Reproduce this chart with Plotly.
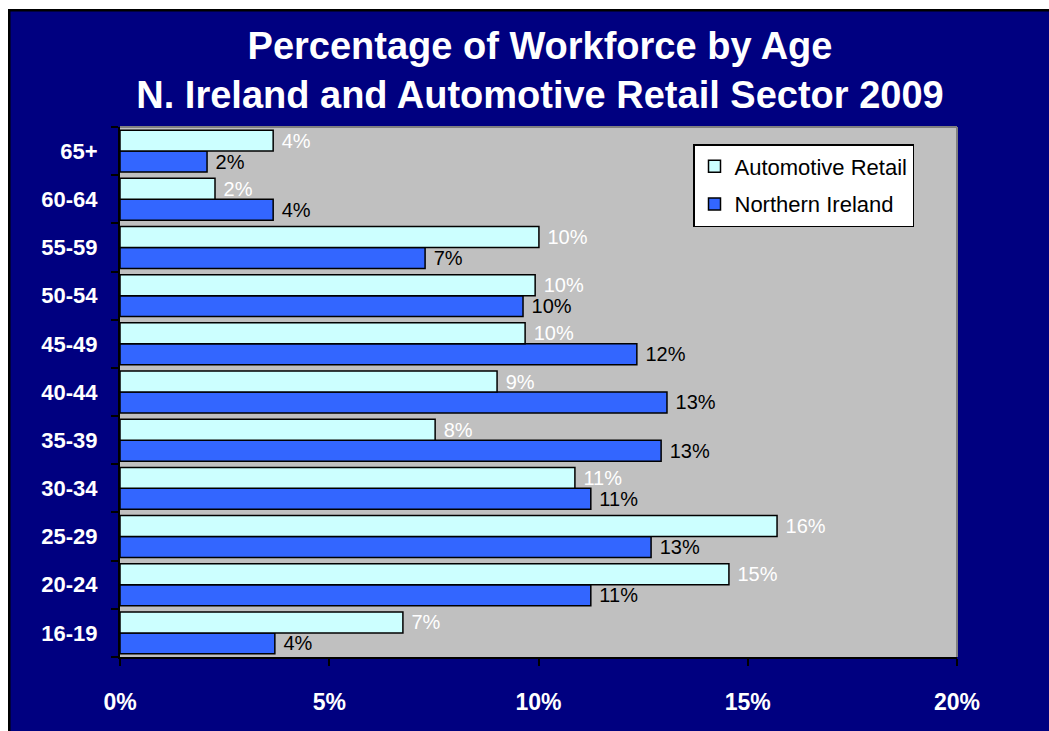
import plotly.graph_objects as go

# Age bands, bottom to top
ages = ["16-19", "20-24", "25-29", "30-34", "35-39", "40-44",
        "45-49", "50-54", "55-59", "60-64", "65+"]

# Share of workforce (%) in each age band
automotive_retail = [6.76, 14.55, 15.70, 10.87, 7.53, 9.01, 9.68, 9.92, 10.01, 2.27, 3.66]
northern_ireland = [3.70, 11.25, 12.69, 11.25, 12.93, 13.07, 12.35, 9.63, 7.29, 3.66, 2.08]

x_ticks = [0, 5, 10, 15, 20]
x_tick_labels = ["0%", "5%", "10%", "15%", "20%"]

NAVY = "#000080"
FONT = "Liberation Sans, Arial, sans-serif"

# Plot-area placement in pixels (page is 1049 x 731)
W, H = 1049, 731
L, R, T, B = 120, 92, 127, 74
PW, PH = W - L - R, H - T - B


def px_x(p):
    return (p - L) / PW


def px_y(p):
    return (H - B - p) / PH


fig = go.Figure()

fig.add_trace(go.Bar(
    name="Northern Ireland", legendgroup="ni", legendrank=2,
    y=ages, x=northern_ireland, orientation="h",
    marker=dict(color="#3366FF", line=dict(color="black", width=1.5)),
    text=northern_ireland, texttemplate=" %{x:.0f}%", textposition="outside",
    constraintext="none",
    outsidetextfont=dict(family=FONT, size=20, color="black"),
    cliponaxis=False,
))
fig.add_trace(go.Bar(
    name="Automotive Retail", legendgroup="ar", legendrank=1,
    y=ages, x=automotive_retail, orientation="h",
    marker=dict(color="#CCFFFF", line=dict(color="black", width=1.5)),
    text=automotive_retail, texttemplate=" %{x:.0f}%", textposition="outside",
    constraintext="none",
    outsidetextfont=dict(family=FONT, size=20, color="white"),
    cliponaxis=False,
))

shapes = [
    # white page margin with a dark edge on the left and top
    dict(type="rect", xref="paper", yref="paper", layer="above",
         x0=px_x(0), x1=px_x(8), y0=px_y(H), y1=px_y(0),
         fillcolor="white", line=dict(width=0)),
    dict(type="rect", xref="paper", yref="paper", layer="above",
         x0=px_x(0), x1=px_x(W), y0=px_y(9), y1=px_y(0),
         fillcolor="white", line=dict(width=0)),
    dict(type="rect", xref="paper", yref="paper", layer="above",
         x0=px_x(8), x1=px_x(10.5), y0=px_y(H), y1=px_y(9),
         fillcolor="black", line=dict(width=0)),
    dict(type="rect", xref="paper", yref="paper", layer="above",
         x0=px_x(8), x1=px_x(W), y0=px_y(11.5), y1=px_y(9),
         fillcolor="black", line=dict(width=0)),
    # grey frame on top and right of the plot area
    dict(type="line", xref="paper", yref="paper", x0=0, x1=1, y0=1, y1=1,
         line=dict(color="#808080", width=2)),
    dict(type="line", xref="paper", yref="paper", x0=1, x1=1, y0=0, y1=1,
         line=dict(color="#808080", width=2)),
]

fig.update_layout(
    width=W, height=H,
    margin=dict(l=L, r=R, t=T, b=B, pad=0),
    paper_bgcolor=NAVY,
    plot_bgcolor="#C0C0C0",
    barmode="group",
    bargap=0.13,
    bargroupgap=0,
    title=dict(
        text="Percentage of Workforce by Age<br>N. Ireland and Automotive Retail Sector 2009",
        x=px_x(540), xref="paper", xanchor="center",
        y=1 - 59 / H, yref="container", yanchor="middle",
        font=dict(family=FONT, size=38, color="white", weight="bold"),
    ),
    xaxis=dict(
        range=[0, 20], tickvals=x_ticks, ticktext=x_tick_labels,
        showgrid=False, zeroline=False,
        showline=True, linecolor="black", linewidth=2,
        ticks="outside", ticklen=7, tickwidth=2, tickcolor="black",
        ticklabelstandoff=16,
        tickfont=dict(family=FONT, size=23, color="white", weight="bold"),
    ),
    yaxis=dict(
        categoryorder="array", categoryarray=ages,
        showgrid=False, zeroline=False,
        showline=True, linecolor="black", linewidth=2,
        ticks="outside", ticklen=7, tickwidth=2, tickcolor="black",
        tickson="boundaries",
        ticklabelstandoff=16,
        tickfont=dict(family=FONT, size=22, color="white", weight="bold"),
    ),
    legend=dict(
        x=px_x(693), y=px_y(144), xanchor="left", yanchor="top",
        bgcolor="white", bordercolor="black", borderwidth=1.5,
        traceorder="grouped", tracegroupgap=6,
        font=dict(family=FONT, size=22, color="black"),
    ),
    showlegend=True,
    shapes=shapes,
)

fig.write_html("out.html")
